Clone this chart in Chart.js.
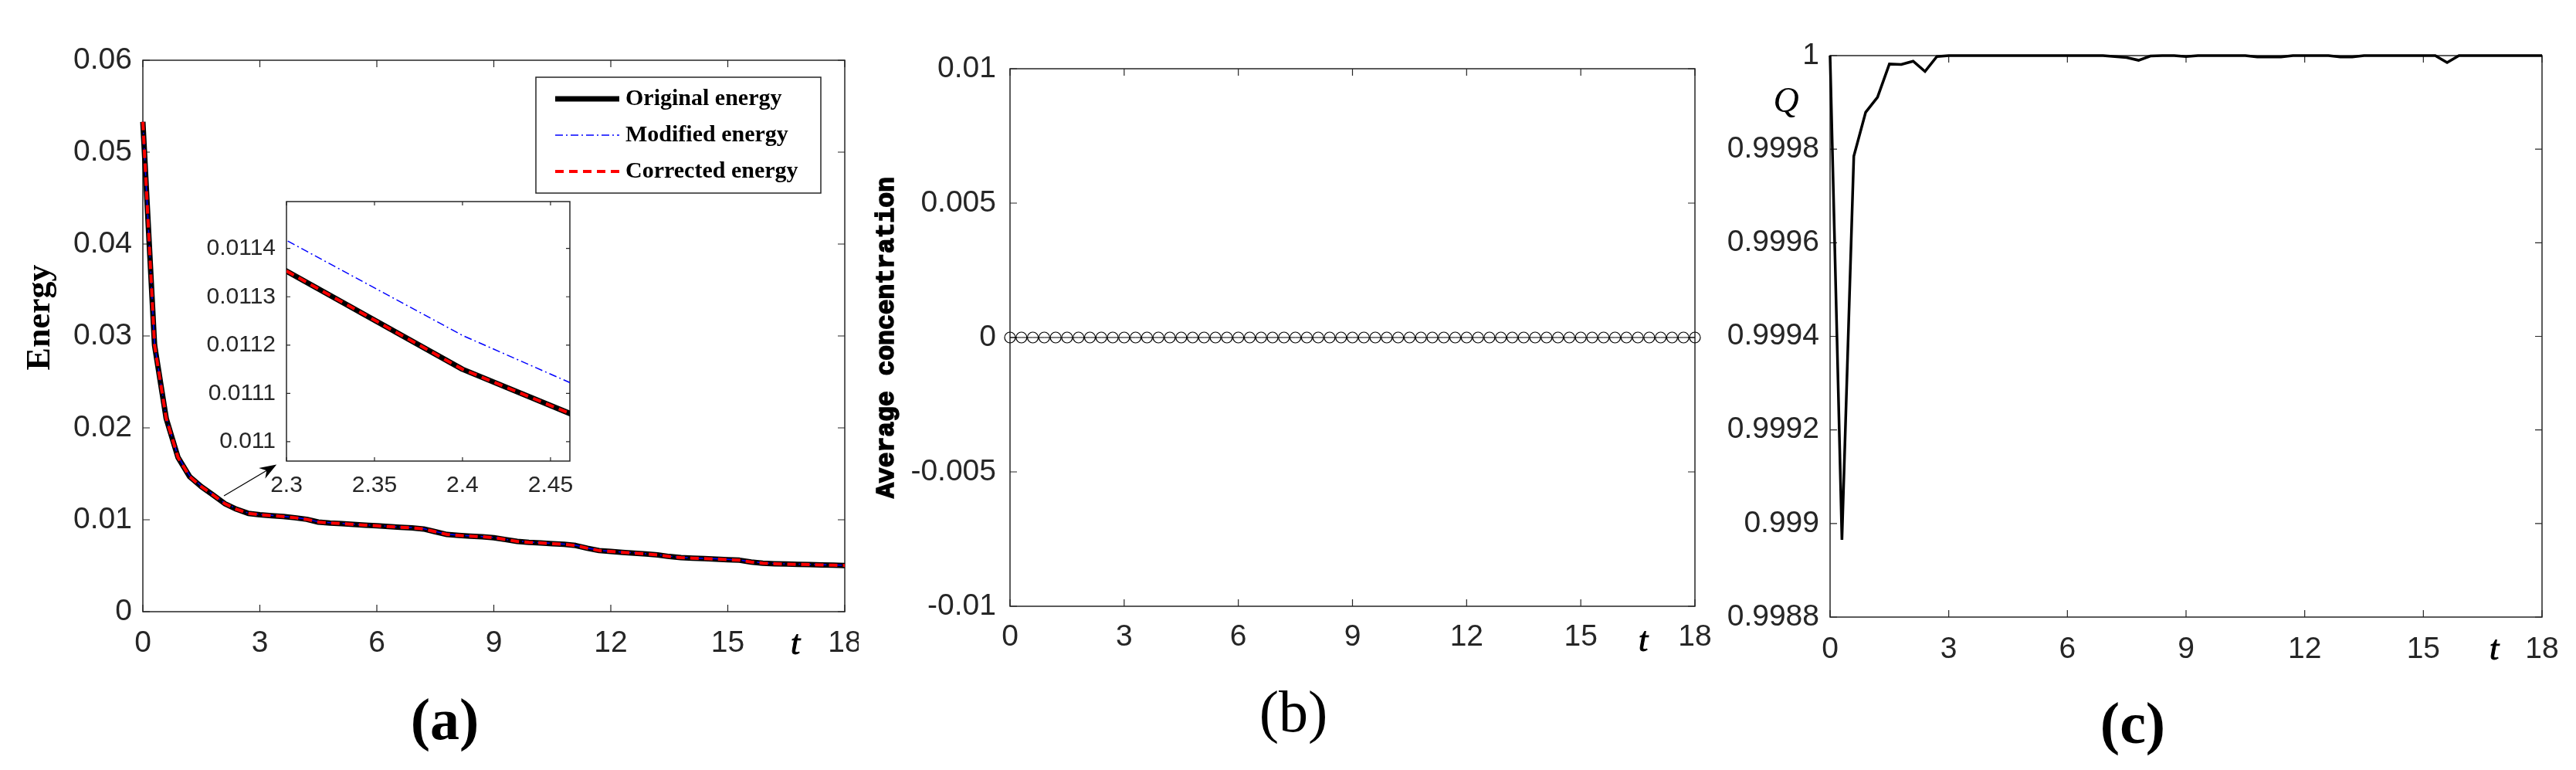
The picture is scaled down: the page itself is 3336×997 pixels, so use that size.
<!DOCTYPE html>
<html>
<head>
<meta charset="utf-8">
<script src="https://cdn.jsdelivr.net/npm/chart.js@4.4.0/dist/chart.umd.min.js"></script>
<style>
  html, body { margin: 0; padding: 0; background: #fff; }
  body { width: 3336px; height: 997px; position: relative; overflow: hidden; }
  canvas { position: absolute; }
  .sub { position: absolute; font-family: 'Liberation Serif', 'Times New Roman', serif; font-size: 76px; line-height: 1; transform: translate(-50%, -50%); color: #000; }
</style>
</head>
<body>
<canvas id="energyChart" width="1112" height="997" style="left:0px;top:0px"></canvas>
<canvas id="insetChart" width="520" height="420" style="left:250px;top:240px"></canvas>
<canvas id="concChart" width="1112" height="997" style="left:1112px;top:0px"></canvas>
<canvas id="qChart" width="1112" height="997" style="left:2224px;top:0px"></canvas>
<div class="sub" style="left:576px;top:931px;font-weight:bold">(a)</div>
<div class="sub" style="left:1675px;top:921px">(b)</div>
<div class="sub" style="left:2762px;top:936px;font-weight:bold">(c)</div>

<script>
// time samples (step 0.3)
const time = [
  0, 0.3, 0.6, 0.9, 1.2, 1.5, 1.8, 2.1, 2.4, 2.7,
  3, 3.3, 3.6, 3.9, 4.2, 4.5, 4.8, 5.1, 5.4, 5.7,
  6, 6.3, 6.6, 6.9, 7.2, 7.5, 7.8, 8.1, 8.4, 8.7,
  9, 9.3, 9.6, 9.9, 10.2, 10.5, 10.8, 11.1, 11.4, 11.7,
  12, 12.3, 12.6, 12.9, 13.2, 13.5, 13.8, 14.1, 14.4, 14.7,
  15, 15.3, 15.6, 15.9, 16.2, 16.5, 16.8, 17.1, 17.4, 17.7,
  18
];

const originalEnergy = [
  0.0533, 0.0290, 0.0210, 0.0168, 0.0147, 0.0136, 0.0127, 0.01176, 0.01115, 0.01070,
  0.01055, 0.01045, 0.01035, 0.01022, 0.01005, 0.00975, 0.00965, 0.00958, 0.00950, 0.00942,
  0.00934, 0.00926, 0.00918, 0.00912, 0.00900, 0.00870, 0.00840, 0.00830, 0.00822, 0.00815,
  0.00805, 0.00785, 0.00765, 0.00755, 0.00748, 0.00740, 0.00733, 0.00720, 0.00690, 0.00665,
  0.00655, 0.00645, 0.00637, 0.00628, 0.00618, 0.00600, 0.00588, 0.00582, 0.00577, 0.00572,
  0.00566, 0.00560, 0.00540, 0.00528, 0.00522, 0.00518, 0.00515, 0.00512, 0.00509, 0.00506,
  0.00503
];

const modifiedEnergy = [
  0.0533, 0.0291, 0.0211, 0.0169, 0.0148, 0.01368, 0.01276, 0.01181, 0.01122, 0.01074,
  0.01058, 0.01048, 0.01038, 0.01025, 0.01008, 0.00978, 0.00968, 0.00961, 0.00953, 0.00945,
  0.00937, 0.00929, 0.00921, 0.00915, 0.00903, 0.00873, 0.00843, 0.00833, 0.00825, 0.00818,
  0.00808, 0.00788, 0.00768, 0.00758, 0.00751, 0.00743, 0.00736, 0.00723, 0.00693, 0.00668,
  0.00658, 0.00648, 0.00640, 0.00631, 0.00621, 0.00603, 0.00591, 0.00585, 0.00580, 0.00575,
  0.00569, 0.00563, 0.00543, 0.00531, 0.00525, 0.00521, 0.00518, 0.00515, 0.00512, 0.00509,
  0.00506
];

const correctedEnergy = [
  0.0533, 0.0290, 0.0210, 0.0168, 0.0147, 0.0136, 0.0127, 0.01176, 0.01115, 0.01070,
  0.01055, 0.01045, 0.01035, 0.01022, 0.01005, 0.00975, 0.00965, 0.00958, 0.00950, 0.00942,
  0.00934, 0.00926, 0.00918, 0.00912, 0.00900, 0.00870, 0.00840, 0.00830, 0.00822, 0.00815,
  0.00805, 0.00785, 0.00765, 0.00755, 0.00748, 0.00740, 0.00733, 0.00720, 0.00690, 0.00665,
  0.00655, 0.00645, 0.00637, 0.00628, 0.00618, 0.00600, 0.00588, 0.00582, 0.00577, 0.00572,
  0.00566, 0.00560, 0.00540, 0.00528, 0.00522, 0.00518, 0.00515, 0.00512, 0.00509, 0.00506,
  0.00503
];

const avgConcentration = [
  0, 0, 0, 0, 0, 0, 0, 0, 0, 0,
  0, 0, 0, 0, 0, 0, 0, 0, 0, 0,
  0, 0, 0, 0, 0, 0, 0, 0, 0, 0,
  0, 0, 0, 0, 0, 0, 0, 0, 0, 0,
  0, 0, 0, 0, 0, 0, 0, 0, 0, 0,
  0, 0, 0, 0, 0, 0, 0, 0, 0, 0,
  0
];

const qValues = [
  1, 0.998965, 0.999785, 0.999879, 0.999911, 0.999982, 0.999981, 0.999988, 0.999966, 0.999998,
  1, 1, 1, 1, 1, 1, 1, 1, 1, 1,
  1, 1, 1, 1, 0.999998, 0.999996, 0.99999, 0.999999, 1, 1,
  0.999998, 1, 1, 1, 1, 1, 0.999997, 0.999997, 0.999997, 1,
  1, 1, 1, 0.999997, 0.999997, 1, 1, 1, 1, 1,
  1, 1, 0.999985, 1, 1, 1, 1, 1, 1, 1,
  1
];

const seriesNames = ['Original energy', 'Modified energy', 'Corrected energy'];

// tick labels
const tTicks = [0, 3, 6, 9, 12, 15, 18];
const energyTicks = [0, 0.01, 0.02, 0.03, 0.04, 0.05, 0.06];
const insetTTicks = [2.3, 2.35, 2.4, 2.45];
const insetEnergyTicks = [0.011, 0.0111, 0.0112, 0.0113, 0.0114];
const concTicks = [-0.01, -0.005, 0, 0.005, 0.01];
const qTicks = [0.9988, 0.999, 0.9992, 0.9994, 0.9996, 0.9998, 1];

// arrow from main curve to the inset (data coordinates)
const arrowFrom = [2.08, 0.0126];
const arrowTo = [3.43, 0.0160];

const INK = '#262626';
const SANS = "'Liberation Sans', Arial, Helvetica, sans-serif";
const SERIF = "'Liberation Serif', 'Times New Roman', serif";
const MONO = "'Liberation Mono', 'Courier New', monospace";

function points(values) {
  return time.map((t, i) => ({ x: t, y: values[i] }));
}

function axis(min, max, ticks, size, pad, fontSize) {
  return {
    type: 'linear',
    min: min,
    max: max,
    afterBuildTicks: s => { s.ticks = ticks.map(v => ({ value: v })); },
    afterFit: s => {
      if (s.isHorizontal()) s.height = size; else s.width = size;
      s.paddingLeft = 0; s.paddingRight = 0; s.paddingTop = 0; s.paddingBottom = 0;
    },
    grid: { display: false, drawTicks: false },
    border: { display: false },
    ticks: {
      autoSkip: false,
      maxRotation: 0,
      padding: pad,
      color: INK,
      font: { family: SANS, size: fontSize },
      callback: v => String(v)
    }
  };
}

// box round the axes with inward ticks on all four sides
function frame(tickLen, fill) {
  return {
    id: 'frame',
    beforeDraw(chart) {
      if (!fill) return;
      const { ctx, chartArea: a } = chart;
      ctx.save();
      ctx.fillStyle = '#fff';
      ctx.fillRect(a.left, a.top, a.width, a.height);
      ctx.restore();
    },
    beforeDatasetsDraw(chart) {
      const { ctx, chartArea: a, scales } = chart;
      ctx.save();
      ctx.strokeStyle = INK;
      ctx.lineWidth = 1.2;
      ctx.beginPath();
      scales.x.ticks.forEach(t => {
        const px = scales.x.getPixelForValue(t.value);
        ctx.moveTo(px, a.bottom); ctx.lineTo(px, a.bottom - tickLen);
        ctx.moveTo(px, a.top); ctx.lineTo(px, a.top + tickLen);
      });
      scales.y.ticks.forEach(t => {
        const py = scales.y.getPixelForValue(t.value);
        ctx.moveTo(a.left, py); ctx.lineTo(a.left + tickLen, py);
        ctx.moveTo(a.right, py); ctx.lineTo(a.right - tickLen, py);
      });
      ctx.stroke();
      ctx.lineWidth = 1.5;
      ctx.strokeRect(a.left, a.top, a.width, a.height);
      ctx.restore();
    }
  };
}

function notes(items) {
  return {
    id: 'notes',
    afterDraw(chart) {
      const ctx = chart.ctx;
      items.forEach(n => {
        ctx.save();
        ctx.translate(n.x, n.y);
        if (n.rotate) ctx.rotate(n.rotate);
        ctx.font = n.font;
        ctx.fillStyle = '#000';
        ctx.textAlign = 'center';
        ctx.textBaseline = 'middle';
        ctx.fillText(n.text, 0, 0);
        if (n.heavy) {
          ctx.strokeStyle = '#000';
          ctx.lineWidth = n.heavy;
          ctx.strokeText(n.text, 0, 0);
        }
        ctx.restore();
      });
    }
  };
}

const legendBox = {
  id: 'legendBox',
  afterDraw(chart) {
    const ctx = chart.ctx;
    const bx = 694, by = 100, bw = 369, bh = 150;
    ctx.save();
    ctx.fillStyle = '#fff';
    ctx.fillRect(bx, by, bw, bh);
    ctx.strokeStyle = INK;
    ctx.lineWidth = 1.5;
    ctx.strokeRect(bx, by, bw, bh);
    chart.data.datasets.forEach((ds, i) => {
      const cy = by + 28 + i * 47;
      ctx.beginPath();
      ctx.strokeStyle = ds.borderColor;
      ctx.lineWidth = ds.borderWidth;
      ctx.setLineDash(ds.borderDash || []);
      ctx.moveTo(bx + 25, cy);
      ctx.lineTo(bx + 108, cy);
      ctx.stroke();
      ctx.setLineDash([]);
      ctx.fillStyle = '#000';
      ctx.font = 'bold 30px ' + SERIF;
      ctx.textAlign = 'left';
      ctx.textBaseline = 'middle';
      ctx.fillText(ds.label, bx + 116, cy);
    });
    ctx.restore();
  }
};

const zoomArrow = {
  id: 'zoomArrow',
  afterDatasetsDraw(chart) {
    const { ctx, scales: { x, y } } = chart;
    const x0 = x.getPixelForValue(arrowFrom[0]), y0 = y.getPixelForValue(arrowFrom[1]);
    const x1 = x.getPixelForValue(arrowTo[0]), y1 = y.getPixelForValue(arrowTo[1]);
    const ang = Math.atan2(y1 - y0, x1 - x0);
    const c = Math.cos(ang), s = Math.sin(ang);
    ctx.save();
    ctx.strokeStyle = '#000';
    ctx.fillStyle = '#000';
    ctx.lineWidth = 1.3;
    ctx.beginPath();
    ctx.moveTo(x0, y0);
    ctx.lineTo(x1 - 14 * c, y1 - 14 * s);
    ctx.stroke();
    ctx.beginPath();
    ctx.moveTo(x1, y1);
    ctx.lineTo(x1 - 22 * c + 8 * s, y1 - 22 * s - 8 * c);
    ctx.lineTo(x1 - 15 * c, y1 - 15 * s);
    ctx.lineTo(x1 - 22 * c - 8 * s, y1 - 22 * s + 8 * c);
    ctx.closePath();
    ctx.fill();
    ctx.restore();
  }
};

const common = {
  responsive: false,
  animation: false,
  devicePixelRatio: 1,
  events: []
};

function energySets(clip) {
  return [
    { label: seriesNames[0], data: points(originalEnergy), borderColor: '#000000', borderWidth: 7,
      borderJoinStyle: 'round', pointRadius: 0, order: 3, clip: clip },
    { label: seriesNames[1], data: points(modifiedEnergy), borderColor: '#0000ff', borderWidth: 1.5,
      borderDash: [10, 4, 2, 4], pointRadius: 0, order: 2, clip: clip },
    { label: seriesNames[2], data: points(correctedEnergy), borderColor: '#ff0000', borderWidth: 4,
      borderDash: [11, 7], pointRadius: 0, order: 1, clip: clip }
  ];
}

// (a) energy
new Chart(document.getElementById('energyChart'), {
  type: 'line',
  data: { datasets: energySets(false) },
  options: Object.assign({}, common, {
    layout: { padding: { left: 0, top: 78, right: 18, bottom: 125 } },
    scales: {
      x: axis(0, 18, tTicks, 80, 18, 39),
      y: axis(0, 0.06, energyTicks, 185, 14, 39)
    },
    plugins: { legend: { display: false }, tooltip: { enabled: false } }
  }),
  plugins: [frame(9, false), zoomArrow, legendBox, notes([
    { text: 'Energy', x: 53, y: 411, rotate: -Math.PI / 2, font: 'bold 44px ' + SERIF },
    { text: 't', x: 1030, y: 835, font: 'italic 44px ' + SERIF, heavy: 1 }
  ])]
});

// (a) inset
new Chart(document.getElementById('insetChart'), {
  type: 'line',
  data: { datasets: energySets(0) },
  options: Object.assign({}, common, {
    layout: { padding: { left: 0, top: 21, right: 32, bottom: 23 } },
    scales: {
      x: axis(2.3, 2.461, insetTTicks, 40, 14, 30),
      y: axis(0.01096, 0.011497, insetEnergyTicks, 121, 14, 30)
    },
    plugins: { legend: { display: false }, tooltip: { enabled: false } }
  }),
  plugins: [frame(5, true)]
});

// (b) average concentration
new Chart(document.getElementById('concChart'), {
  type: 'line',
  data: {
    datasets: [{
      label: 'Average concentration',
      data: points(avgConcentration),
      borderColor: '#000000',
      borderWidth: 1,
      pointRadius: 7,
      pointBorderWidth: 1.2,
      pointBorderColor: '#000000',
      pointBackgroundColor: 'rgba(0,0,0,0)',
      clip: false
    }]
  },
  options: Object.assign({}, common, {
    layout: { padding: { left: 0, top: 89, right: 29, bottom: 132 } },
    scales: {
      x: axis(0, 18, tTicks, 80, 17, 39),
      y: axis(-0.01, 0.01, concTicks, 196, 18, 39)
    },
    plugins: { legend: { display: false }, tooltip: { enabled: false } }
  }),
  plugins: [frame(9, false), notes([
    { text: 'Average concentration', x: 37, y: 437, rotate: -Math.PI / 2, font: 'bold 33px ' + MONO, heavy: 1.6 },
    { text: 't', x: 1016, y: 831, font: 'italic 44px ' + SERIF, heavy: 1 }
  ])]
});

// (c) Q
new Chart(document.getElementById('qChart'), {
  type: 'line',
  data: {
    datasets: [{
      label: 'Q',
      data: points(qValues),
      borderColor: '#000000',
      borderWidth: 3.5,
      pointRadius: 0,
      clip: false
    }]
  },
  options: Object.assign({}, common, {
    layout: { padding: { left: 0, top: 72, right: 44, bottom: 118 } },
    scales: {
      x: axis(0, 18, tTicks, 80, 19, 39),
      y: axis(0.9988, 1, qTicks, 146, 14, 39)
    },
    plugins: { legend: { display: false }, tooltip: { enabled: false } }
  }),
  plugins: [frame(9, false), notes([
    { text: 'Q', x: 89, y: 133, font: 'italic 46px ' + SERIF },
    { text: 't', x: 1006, y: 842, font: 'italic 44px ' + SERIF, heavy: 1 }
  ])]
});
</script>
</body>
</html>
